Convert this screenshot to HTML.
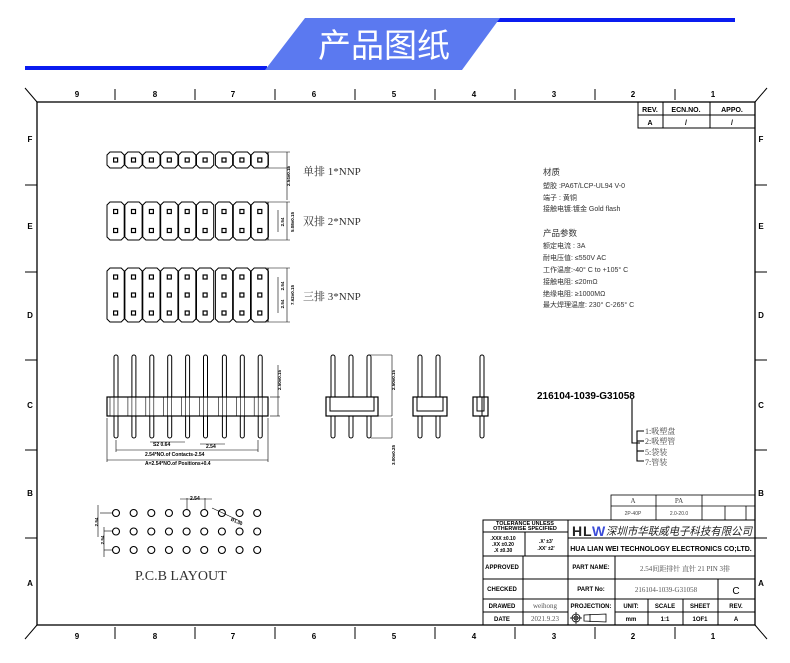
<!DOCTYPE html>
<html><head><meta charset="utf-8"><style>
html,body{margin:0;padding:0;background:#fff;}
svg{display:block;}
text{font-family:"Liberation Sans","Noto Sans CJK SC",sans-serif;}
.s{font-family:"Liberation Serif","Noto Serif CJK SC",serif;}
</style></head><body>
<svg id="g" width="790" height="663" viewBox="0 0 790 663" xmlns="http://www.w3.org/2000/svg">
<rect x="25" y="66" width="242" height="4" fill="#0a1cf0"/>
<rect x="495" y="18" width="240" height="4" fill="#0a1cf0"/>
<polygon points="265,70 305,18 500,18 462,70" fill="#5b79f0"/>
<text x="384" y="57" font-size="33" fill="#fff" text-anchor="middle" font-family="Noto Sans CJK SC, sans-serif">产品图纸</text>

<g stroke="#000" fill="none" stroke-width="1">
<rect x="37" y="102" width="718" height="523" stroke-width="1.3"/>
<line x1="25" y1="88" x2="37" y2="102"/><line x1="767" y1="88" x2="755" y2="102"/>
<line x1="25" y1="639" x2="37" y2="625"/><line x1="767" y1="639" x2="755" y2="625"/>
<rect x="638" y="102" width="117" height="26"/>
<line x1="638" y1="115" x2="755" y2="115"/>
<line x1="663" y1="102" x2="663" y2="128"/><line x1="710" y1="102" x2="710" y2="128"/>
<rect x="611" y="495" width="144" height="25" stroke-width="0.8"/>
<line x1="611" y1="506" x2="755" y2="506" stroke-width="0.8"/>
<line x1="656" y1="495" x2="656" y2="520" stroke-width="0.8"/>
<line x1="702" y1="495" x2="702" y2="520" stroke-width="0.8"/>
<line x1="725" y1="506" x2="725" y2="520" stroke-width="0.8"/>
<line x1="746" y1="506" x2="746" y2="520" stroke-width="0.8"/>
<rect x="483" y="520" width="272" height="105"/>
<line x1="568" y1="520" x2="568" y2="625"/>
<line x1="483" y1="556" x2="755" y2="556"/>
<line x1="483" y1="579" x2="755" y2="579"/>
<line x1="483" y1="599" x2="755" y2="599"/>
<line x1="483" y1="612" x2="568" y2="612"/>
<line x1="615" y1="612" x2="755" y2="612"/>
<line x1="523" y1="556" x2="523" y2="625"/>
<line x1="483" y1="532" x2="568" y2="532"/>
<line x1="525" y1="532" x2="525" y2="556"/>
<line x1="568" y1="538" x2="755" y2="538"/>
<line x1="615" y1="556" x2="615" y2="625"/>
<line x1="718" y1="579" x2="718" y2="625"/>
<line x1="648" y1="599" x2="648" y2="625"/>
<line x1="683" y1="599" x2="683" y2="625"/>
</g>
<g id="frame" stroke="#000" stroke-width="1.3"></g>
<g font-size="7" text-anchor="middle" font-weight="bold">
<text x="650" y="112">REV.</text><text x="686" y="112">ECN.NO.</text><text x="732" y="112">APPO.</text>
<text x="650" y="125">A</text><text x="686" y="125">/</text><text x="732" y="125">/</text>
</g>
<g class="s" font-size="7" text-anchor="middle" fill="#444">
<text x="633" y="503" class="s">A</text><text x="679" y="503" class="s">PA</text>
<text x="633" y="515" font-size="5">2P-40P</text><text x="679" y="515" font-size="5">2.0-20.0</text>
</g>
<g font-size="5.5" font-weight="bold" text-anchor="middle">
<text x="525" y="525">TOLERANCE UNLESS</text><text x="525" y="530">OTHERWISE SPECIFIED</text>
<text x="503" y="540" font-size="5">.XXX ±0.10</text><text x="503" y="546" font-size="5">.XX ±0.20</text><text x="503" y="552" font-size="5">.X ±0.30</text>
<text x="546" y="543" font-size="5">.X'  ±3'</text><text x="546" y="550" font-size="5">.XX'  ±2'</text>
<text x="502" y="569" font-size="6">APPROVED</text><text x="502" y="591" font-size="6">CHECKED</text>
<text x="502" y="608" font-size="6">DRAWED</text><text x="502" y="621" font-size="6">DATE</text>
<text x="591" y="569" font-size="6">PART NAME:</text><text x="591" y="591" font-size="6">PART No:</text>
<text x="591" y="608" font-size="6">PROJECTION:</text>
<text x="631" y="608" font-size="6">UNIT:</text><text x="665" y="608" font-size="6">SCALE</text>
<text x="700" y="608" font-size="6">SHEET</text><text x="736" y="608" font-size="6">REV.</text>
<text x="631" y="621" font-size="6">mm</text><text x="665" y="621" font-size="6">1:1</text>
<text x="700" y="621" font-size="6">1OF1</text><text x="736" y="621" font-size="6">A</text>
<text x="661" y="551" font-size="7">HUA LIAN WEI TECHNOLOGY ELECTRONICS CO;LTD.</text>
</g>
<text x="736" y="594" font-size="10" text-anchor="middle">C</text>
<text x="572" y="536" font-size="14" font-weight="bold" fill="#222">H</text>
<text x="583" y="536" font-size="14" font-weight="bold" fill="#222">L</text>
<text x="592" y="536" font-size="14" font-weight="bold" fill="#3a4bd8">W</text>
<text x="606" y="535" font-size="11" font-style="italic" fill="#222" font-family="Noto Sans CJK SC, sans-serif" textLength="146" lengthAdjust="spacingAndGlyphs">深圳市华联威电子科技有限公司</text>
<g class="s" font-size="7" fill="#555" text-anchor="middle">
<text x="685" y="571" class="s">2.54间距排针 直针 21 PIN 3排</text>
<text x="666" y="592" class="s">216104-1039-G31058</text>
<text x="545" y="608" class="s">weihong</text>
<text x="545" y="621" class="s">2021.9.23</text>
</g>
<g stroke="#000" fill="none" stroke-width="0.8">
<circle cx="576" cy="618" r="4"/><circle cx="576" cy="618" r="2"/><line x1="570" y1="618" x2="582" y2="618"/><line x1="576" y1="612" x2="576" y2="624"/>
<polygon points="584,615 606,614 606,622 584,621"/><line x1="590" y1="614" x2="590" y2="622"/>
</g>

<g font-size="7" fill="#333" font-family="Liberation Mono, Noto Sans CJK SC, monospace">
<text x="543" y="175" font-size="8.5">材质</text>
<text x="543" y="188">塑胶 :PA6T/LCP-UL94 V-0</text>
<text x="543" y="200">端子 : 黄铜</text>
<text x="543" y="211">接触电镀:镀金 Gold flash</text>
<text x="543" y="236" font-size="8.5">产品参数</text>
<text x="543" y="248">额定电流 : 3A</text>
<text x="543" y="260">耐电压值: ≤550V AC</text>
<text x="543" y="272">工作温度:-40° C to +105° C</text>
<text x="543" y="284">接触电阻: ≤20mΩ</text>
<text x="543" y="296">绝缘电阻: ≥1000MΩ</text>
<text x="543" y="307">最大焊理温度: 230° C-265° C</text>
</g>
<text x="537" y="399" font-size="10" font-weight="bold">216104-1039-G31058</text>
<g stroke="#000" fill="none" stroke-width="1.1">
<polyline points="632,399 632,443 640,443"/>
<polyline points="644,431 637,431 637,461 644,461"/>
<line x1="637" y1="451" x2="644" y2="451"/><line x1="637" y1="441" x2="644" y2="441"/>
</g>
<g class="s" font-size="8" fill="#444">
<text x="645" y="434" class="s">1:吸塑盘</text><text x="645" y="444" class="s">2:吸塑管</text>
<text x="645" y="455" class="s">5:袋装</text><text x="645" y="465" class="s">7:管装</text>
</g>

<g class="s" font-size="11" fill="#333">
<text x="303" y="175" class="s">单排 1*NNP</text>
<text x="303" y="225" class="s">双排 2*NNP</text>
<text x="303" y="300" class="s">三排 3*NNP</text>
<text x="135" y="580" font-size="14" class="s">P.C.B LAYOUT</text>
</g>
<g id="dyn" stroke="#000" fill="none" stroke-width="1"></g>
<g font-size="5" font-weight="bold">
<text x="153" y="446">S2  0.64</text>
<text x="206" y="448">2.54</text>
<text x="145" y="456">2.54*NO.of Contacts-2.54</text>
<text x="145" y="465">A=2.54*NO.of Positions+0.4</text>
<text x="190" y="500">2.54</text>
</g>
</svg>
<script>
var NS="http://www.w3.org/2000/svg",d=document.getElementById('dyn'),f=document.getElementById('frame'),svg=document.getElementById('g');
function el(p,t,a){var e=document.createElementNS(NS,t);for(var k in a)e.setAttribute(k,a[k]);p.appendChild(e);return e;}
function ln(p,x1,y1,x2,y2,w){return el(p,'line',{x1:x1,y1:y1,x2:x2,y2:y2,'stroke-width':w||1});}
function tx(s,x,y,o){var e=el(svg,'text',Object.assign({x:x,y:y,'font-size':7,'font-weight':'bold','text-anchor':'middle'},o||{}));e.textContent=s;return e;}
var cx=[115,195,275,355,435,515,595,675];
cx.forEach(function(x){ln(f,x,89,x,100);ln(f,x,627,x,639);});
var nums=[77,155,233,314,394,474,554,633,713];
nums.forEach(function(x,i){tx(String(9-i),x,97,{'font-size':8});tx(String(9-i),x,639,{'font-size':8});});
[185,272,360,450,538].forEach(function(y){ln(f,25,y,37,y);ln(f,755,y,767,y);});
var L=['F','E','D','C','B','A'],ly=[142,229,318,408,496,586];
L.forEach(function(c,i){tx(c,30,ly[i],{'font-size':8});tx(c,761,ly[i],{'font-size':8});});
function rowblock(y0,y1,n){
 for(var i=0;i<9;i++){
  var x0=107+i*17.9+(i>=6?1:0),x1=x0+17.2,c=3;
  el(d,'polygon',{points:[x0+c,y0,x1-c,y0,x1,y0+c,x1,y1-c,x1-c,y1,x0+c,y1,x0,y1-c,x0,y0+c].join(' ')});
  for(var r=0;r<n;r++){var cy=y0+(y1-y0)*(r+0.5)/n;el(d,'rect',{x:x0+6.6,y:cy-2,width:4,height:4,'stroke-width':1.2});}
 }
 ln(d,268,y0,268,y1);ln(d,265,y0,290,y0,0.6);ln(d,265,y1,290,y1,0.6);
}
rowblock(152,168,1);rowblock(202,240,2);rowblock(268,322,3);
ln(d,287,152,287,200,0.6);ln(d,287,202,287,240,0.6);ln(d,287,268,287,322,0.6);
ln(d,278,210,278,232,0.6);ln(d,278,277,278,296,0.6);ln(d,278,296,278,313,0.6);
[[287,176,'2.54±0.15'],[291,222,'5.08±0.15'],[291,295,'7.62±0.15'],[281,222,'2.54'],[281,286,'2.54'],[281,304,'2.54']].forEach(function(a){
 tx(a[2],a[0]+3,a[1],{'font-size':4.5,transform:'rotate(-90 '+(a[0]+3)+' '+a[1]+')'});});
for(var i=0;i<9;i++){var px=116+i*17.9+(i>=6?1:0);
 el(d,'rect',{x:px-2,y:355,width:4,height:83,rx:2});
}
el(d,'rect',{x:107,y:397,width:161,height:19,fill:'#fff','stroke-width':1.2});
for(var i=0;i<9;i++){var px=116+i*17.9+(i>=6?1:0);ln(d,px-2,397,px-2,416,0.6);ln(d,px+2,397,px+2,416,0.6);ln(d,px-6,397,px-6,416,0.6);}
ln(d,270,397,280,397,0.6);ln(d,278,365,278,416,0.6);ln(d,270,416,280,416,0.6);
tx('2.50±0.15',281,380,{'font-size':4.5,transform:'rotate(-90 281 380)'});
ln(d,116,440,116,452,0.6);ln(d,258,440,258,452,0.6);ln(d,107,418,107,462,0.6);ln(d,268,418,268,462,0.6);
ln(d,116,450,258,450,0.6);ln(d,107,460,268,460,0.6);ln(d,150,442,185,442,0.6);ln(d,200,444,225,444,0.6);
function pin(x,y0,y1){el(d,'rect',{x:x-2,y:y0,width:4,height:y1-y0,rx:2,fill:'#fff'});}
[333,351,369].forEach(function(x){pin(x,355,438);});
el(d,'rect',{x:326,y:397,width:52,height:19,fill:'#fff','stroke-width':1.2});el(d,'rect',{x:330,y:397,width:44,height:14,fill:'none'});
ln(d,369,355,392,355,0.6);ln(d,392,355,392,416,0.6);ln(d,371,416,392,416,0.6);ln(d,392,418,392,438,0.6);ln(d,371,438,392,438,0.6);
tx('2.50±0.15',395,380,{'font-size':4.5,transform:'rotate(-90 395 380)'});
tx('3.00±0.25',395,455,{'font-size':4.5,transform:'rotate(-90 395 455)'});
[420,438].forEach(function(x){pin(x,355,438);});
el(d,'rect',{x:413,y:397,width:34,height:19,fill:'#fff','stroke-width':1.2});el(d,'rect',{x:417,y:397,width:26,height:14});
pin(482,355,438);el(d,'rect',{x:473,y:397,width:15,height:19,fill:'#fff','stroke-width':1.2});el(d,'rect',{x:477,y:397,width:7,height:14});
ln(d,482,397,482,416);
for(var r=0;r<3;r++)for(var i=0;i<9;i++)el(d,'circle',{cx:116+i*17.65,cy:513+r*18.5,r:3.5,'stroke-width':1.1});
ln(d,100,513,112,513,0.6);ln(d,98,505,98,537,0.6);ln(d,104,531,112,531,0.6);ln(d,104,527,104,557,0.6);ln(d,104,550,112,550,0.6);
ln(d,187,498,187,510,0.6);ln(d,205,498,205,510,0.6);ln(d,180,499,212,499,0.6);ln(d,212,508,242,522,0.6);
tx('2.54',98,522,{'font-size':4.5,transform:'rotate(-90 98 522)'});
tx('2.54',104,540,{'font-size':4.5,transform:'rotate(-90 104 540)'});
tx('Ø1.00',236,523,{'font-size':4.5,transform:'rotate(25 236 523)'});
</script>
</body></html>
